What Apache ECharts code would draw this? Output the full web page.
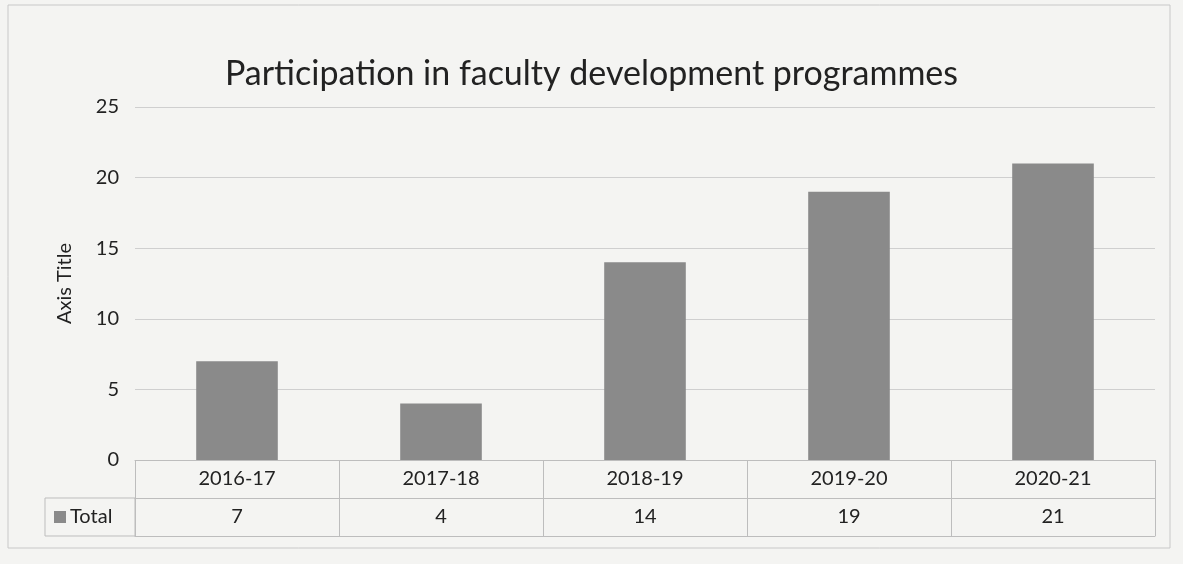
<!DOCTYPE html>
<html><head><meta charset="utf-8">
<script src="https://cdn.jsdelivr.net/npm/echarts@6/dist/echarts.min.js"></script>
<style>html,body{margin:0;padding:0;background:#f4f4f2}#c{width:1183px;height:564px}</style>
</head><body><div id="c"></div>
<script>
const categories = ['2016-17','2017-18','2018-19','2019-20','2020-21'];
const totals = [7, 4, 14, 19, 21];
const yTicks = [0, 5, 10, 15, 20, 25];
const seriesName = 'Total';

const FONT = 'Lato, "Open Sans", sans-serif';
const TXT = '#222222';
const chart = echarts.init(document.getElementById('c'));
const rowH = 38;
chart.setOption({
  backgroundColor: '#f4f4f2',
  animation: false,
  title: {
    text: 'Participation in faculty development programmes',
    left: 'center', top: 52,
    textStyle: {fontFamily: FONT, fontSize: 34, fontWeight: 'normal', color: TXT}
  },
  grid: {left: 135, right: 28, top: 107, bottom: 104},
  xAxis: [
    {type: 'category', data: categories, position: 'bottom',
     axisLine: {show: true, lineStyle: {color: '#bdbdbd', width: 1}},
     axisTick: {show: true, length: rowH * 2, lineStyle: {color: '#bdbdbd'}},
     axisLabel: {fontFamily: FONT, fontSize: 20, color: TXT, margin: 9}},
    {type: 'category', data: categories, position: 'bottom', offset: rowH,
     axisLine: {show: true, lineStyle: {color: '#bdbdbd', width: 1}},
     axisTick: {show: false},
     axisLabel: {fontFamily: FONT, fontSize: 20, color: TXT, margin: 9,
       formatter: (v, i) => String(totals[i])}},
    {type: 'category', data: categories, position: 'bottom', offset: rowH * 2,
     axisLine: {show: true, lineStyle: {color: '#bdbdbd', width: 1}},
     axisTick: {show: false}, axisLabel: {show: false}}
  ],
  yAxis: {
    type: 'value', min: yTicks[0], max: yTicks[yTicks.length - 1], interval: 5,
    name: 'Axis Title', nameLocation: 'middle', nameGap: 60, nameRotate: 90,
    nameTextStyle: {fontFamily: FONT, fontSize: 20, color: TXT},
    axisLine: {show: false}, axisTick: {show: false},
    axisLabel: {fontFamily: FONT, fontSize: 20, color: TXT, margin: 16},
    splitLine: {lineStyle: {color: '#cfcfcf', width: 1}}
  },
  series: [{
    name: seriesName, type: 'bar', data: totals, barWidth: '40%',
    itemStyle: {color: '#8a8a8a'}
  }],
  graphic: [
    {type: 'rect', shape: {x: 8, y: 5, width: 1162, height: 543},
     style: {fill: 'none', stroke: '#c8c8c8', lineWidth: 1}, silent: true},
    {type: 'rect', shape: {x: 45, y: 460 + rowH, width: 90, height: rowH},
     style: {fill: 'none', stroke: '#bdbdbd', lineWidth: 1}, silent: true},
    {type: 'rect', shape: {x: 54, y: 460 + rowH + 13, width: 12, height: 12},
     style: {fill: '#8a8a8a'}, silent: true},
    {type: 'text', x: 70, y: 460 + rowH + 19,
     style: {text: seriesName, fontFamily: FONT, fontSize: 20, fill: TXT, textVerticalAlign: 'middle'}, silent: true}
  ]
});
</script></body></html>
